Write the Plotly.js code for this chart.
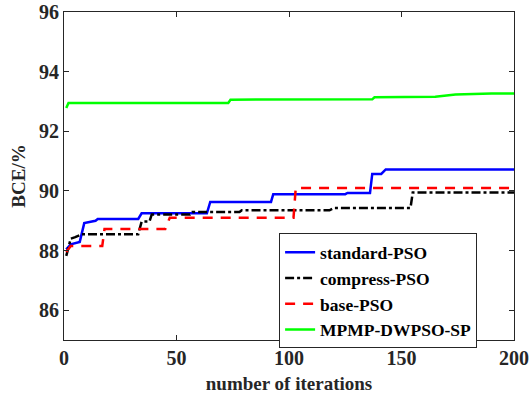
<!DOCTYPE html>
<html>
<head>
<meta charset="utf-8">
<script src="https://cdn.plot.ly/plotly-3.0.1.min.js"></script>
<style>html,body{margin:0;padding:0;background:#fff;}</style>
</head>
<body>
<div id="chart" style="width:529px;height:402px;"></div>
<script>
// Data
const stdX = [1, 3, 7, 9, 14, 15, 33, 34.5, 63.5, 65, 92, 93, 125, 126, 136, 137, 141, 143, 200];
const stdY = [88.04, 88.21, 88.29, 88.92, 89.0, 89.06, 89.06, 89.25, 89.25, 89.63, 89.63, 89.89, 89.89, 89.93, 89.93, 90.57, 90.57, 90.72, 90.72];

const cmpX = [1, 3, 5, 8, 33, 34.5, 38, 39, 56, 57, 78, 79, 118, 120, 154, 155, 200];
const cmpY = [87.82, 88.4, 88.45, 88.55, 88.55, 88.97, 88.97, 89.21, 89.21, 89.29, 89.29, 89.35, 89.35, 89.43, 89.43, 89.95, 89.95];

const baseX = [1, 3, 17, 18, 45, 47, 102, 103, 200];
const baseY = [87.95, 88.15, 88.15, 88.72, 88.72, 89.1, 89.1, 90.1, 90.1];

const mpX = [1, 2, 73, 74, 137, 138, 165, 174, 190, 200];
const mpY = [92.78, 92.95, 92.95, 93.06, 93.07, 93.14, 93.16, 93.23, 93.27, 93.27];

const seriesNames = ['standard-PSO', 'compress-PSO', 'base-PSO', 'MPMP-DWPSO-SP'];
const xTicks = [0, 50, 100, 150, 200];
const yTicks = [86, 88, 90, 92, 94, 96];

const fontFam = '"Liberation Serif", "Times New Roman", Times, serif';
const baseFont = {family: fontFam, size: 19, color: '#262626', weight: 700};
const tickFont = {family: fontFam, size: 20, color: '#262626', weight: 700};

const traces = [
  {x: stdX, y: stdY, name: seriesNames[0], mode: 'lines', line: {color: '#0000ff', width: 2.5}},
  {x: cmpX, y: cmpY, name: seriesNames[1], mode: 'lines', line: {color: '#000000', width: 2.5, dash: 'dashdot'}},
  {x: baseX, y: baseY, name: seriesNames[2], mode: 'lines', line: {color: '#ff0000', width: 2.5, dash: '10px,8px'}},
  {x: mpX, y: mpY, name: seriesNames[3], mode: 'lines', line: {color: '#00ff00', width: 2.5}}
];

const axisCommon = {
  showline: true, linecolor: '#262626', linewidth: 1, mirror: 'ticks',
  ticks: 'inside', ticklen: 5, tickcolor: '#262626', tickwidth: 1,
  showgrid: false, zeroline: false, tickfont: tickFont
};

const layout = {
  width: 529, height: 402,
  margin: {l: 64, r: 15, t: 12, b: 62},
  paper_bgcolor: '#ffffff', plot_bgcolor: '#ffffff',
  font: baseFont,
  showlegend: true,
  legend: {
    x: 0.478, y: 0.325, xanchor: 'left', yanchor: 'top',
    bgcolor: '#ffffff', bordercolor: '#262626', borderwidth: 1,
    font: {family: fontFam, size: 17.5, color: '#000000', weight: 700},
    itemwidth: 30, tracegroupgap: 0
  },
  xaxis: Object.assign({}, axisCommon, {
    range: [0, 200], tickvals: xTicks, ticktext: xTicks.map(String),
    title: {text: 'number of iterations', font: baseFont, standoff: 8}
  }),
  yaxis: Object.assign({}, axisCommon, {
    range: [85, 96], tickvals: yTicks, ticktext: yTicks.map(String),
    title: {text: 'BCE/%', font: baseFont, standoff: 8}
  })
};

Plotly.newPlot('chart', traces, layout, {displayModeBar: false, staticPlot: true});
</script>
</body>
</html>
